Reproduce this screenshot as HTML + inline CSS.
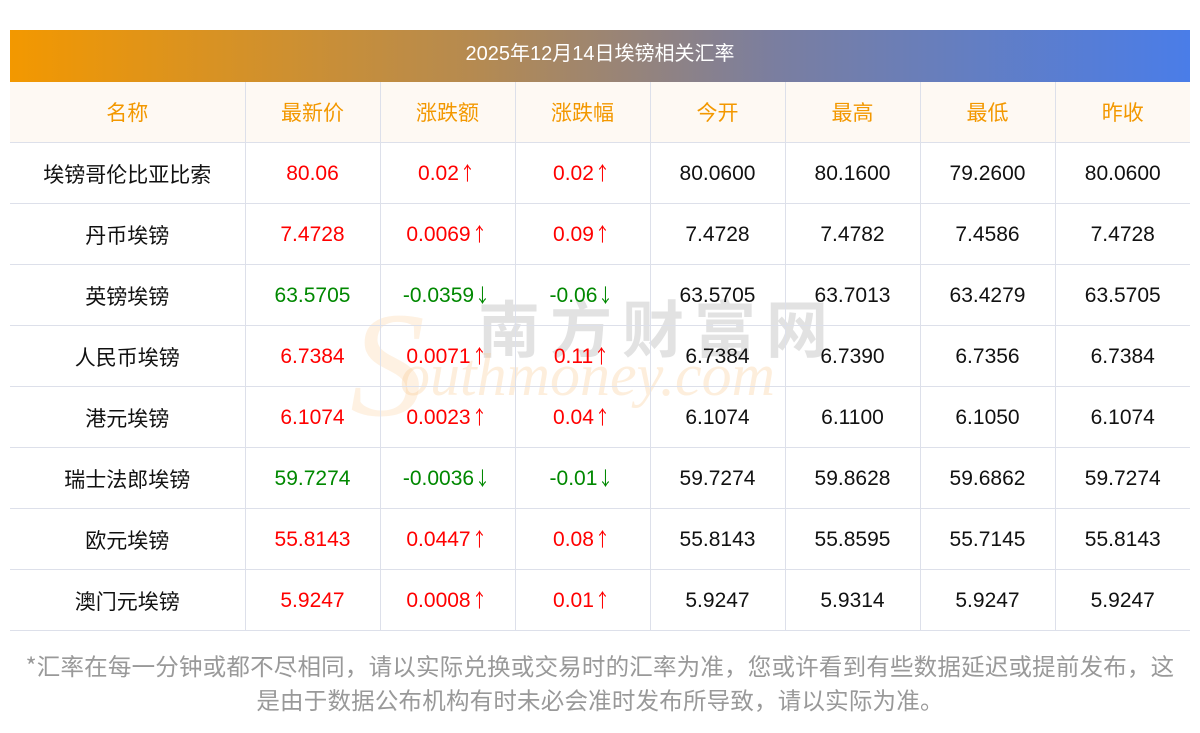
<!DOCTYPE html>
<html><head><meta charset="utf-8"><style>
body{margin:0;width:1200px;height:733px;background:#fff;font-family:"Liberation Sans","Noto Sans CJK SC",sans-serif;position:relative;overflow:hidden}
.title{position:absolute;left:10px;top:30px;width:1180px;height:52px;background:linear-gradient(90deg,#f39800,#b48a52 40%,#7a7ea0 65%,#4a7de8);color:#fff;font-size:20px;line-height:48px;text-align:center}
table{position:absolute;left:10px;top:82px;border-collapse:collapse;width:1180px;table-layout:fixed;z-index:2}
td{height:60px;border-bottom:1px solid #dde0ea;border-left:1px solid #dde0ea;text-align:center;font-size:21px;line-height:24px;color:#111;padding:2px 0 0 0;box-sizing:content-box;vertical-align:middle}
tr td{height:58px}
td:first-child{border-left:none;font-family:"Noto Sans CJK SC",sans-serif}
tr.h td{background:#fef9f3;color:#f39800;font-family:"Noto Sans CJK SC",sans-serif;padding:0;height:60px}
.a{font-family:"Noto Sans CJK SC",sans-serif;font-size:19px;line-height:1;display:inline-block;transform:scaleX(0.8);margin-left:-1px}
.r{color:#f00}.g{color:#080}
.note{position:absolute;left:0;top:648px;width:1200px;text-align:center;color:#999;font-size:23.5px;line-height:34px;font-family:"Noto Sans CJK SC",sans-serif;letter-spacing:0.2px}
.wm{position:absolute;left:478px;top:290px;font-size:62px;line-height:70px;color:rgba(190,190,190,.45);font-weight:bold;letter-spacing:10px;font-family:"Noto Sans CJK SC",sans-serif;z-index:1}
.wm2{position:absolute;left:400px;top:340px;font-size:60px;line-height:70px;color:rgba(250,200,140,.3);font-style:italic;font-family:"Liberation Serif",serif;z-index:1}
.wm3{position:absolute;left:350px;top:290px;font-size:150px;line-height:150px;color:rgba(250,200,140,.25);font-style:italic;font-family:"Liberation Serif",serif;z-index:1}
</style></head><body>
<div class="title">2025年12月14日埃镑相关汇率</div>
<div class="wm3">S</div><div class="wm">南方财富网</div><div class="wm2">outhmoney.com</div>
<table>
<colgroup><col style="width:235px"><col span="7" style="width:135px"></colgroup>
<tr class="h"><td>名称</td><td>最新价</td><td>涨跌额</td><td>涨跌幅</td><td>今开</td><td>最高</td><td>最低</td><td>昨收</td></tr>
<tr><td>埃镑哥伦比亚比索</td><td class="r">80.06</td><td class="r">0.02<span class="a">↑</span></td><td class="r">0.02<span class="a">↑</span></td><td>80.0600</td><td>80.1600</td><td>79.2600</td><td>80.0600</td></tr>
<tr><td>丹币埃镑</td><td class="r">7.4728</td><td class="r">0.0069<span class="a">↑</span></td><td class="r">0.09<span class="a">↑</span></td><td>7.4728</td><td>7.4782</td><td>7.4586</td><td>7.4728</td></tr>
<tr><td>英镑埃镑</td><td class="g">63.5705</td><td class="g">-0.0359<span class="a">↓</span></td><td class="g">-0.06<span class="a">↓</span></td><td>63.5705</td><td>63.7013</td><td>63.4279</td><td>63.5705</td></tr>
<tr><td>人民币埃镑</td><td class="r">6.7384</td><td class="r">0.0071<span class="a">↑</span></td><td class="r">0.11<span class="a">↑</span></td><td>6.7384</td><td>6.7390</td><td>6.7356</td><td>6.7384</td></tr>
<tr><td>港元埃镑</td><td class="r">6.1074</td><td class="r">0.0023<span class="a">↑</span></td><td class="r">0.04<span class="a">↑</span></td><td>6.1074</td><td>6.1100</td><td>6.1050</td><td>6.1074</td></tr>
<tr><td>瑞士法郎埃镑</td><td class="g">59.7274</td><td class="g">-0.0036<span class="a">↓</span></td><td class="g">-0.01<span class="a">↓</span></td><td>59.7274</td><td>59.8628</td><td>59.6862</td><td>59.7274</td></tr>
<tr><td>欧元埃镑</td><td class="r">55.8143</td><td class="r">0.0447<span class="a">↑</span></td><td class="r">0.08<span class="a">↑</span></td><td>55.8143</td><td>55.8595</td><td>55.7145</td><td>55.8143</td></tr>
<tr><td>澳门元埃镑</td><td class="r">5.9247</td><td class="r">0.0008<span class="a">↑</span></td><td class="r">0.01<span class="a">↑</span></td><td>5.9247</td><td>5.9314</td><td>5.9247</td><td>5.9247</td></tr>
</table>
<div class="note">*汇率在每一分钟或都不尽相同，请以实际兑换或交易时的汇率为准，您或许看到有些数据延迟或提前发布，这<br>是由于数据公布机构有时未必会准时发布所导致，请以实际为准。</div>
</body></html>
